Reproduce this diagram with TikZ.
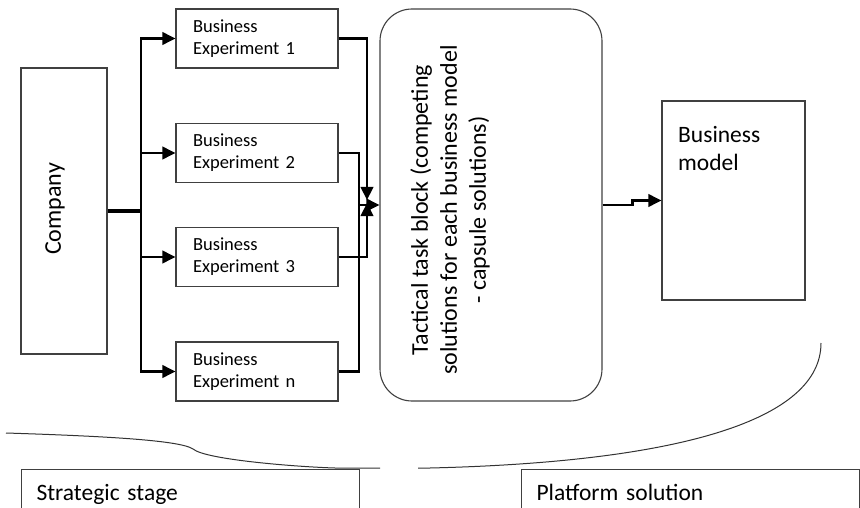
\documentclass[tikz,border=0pt]{standalone}
\usepackage{fontspec}
\setmainfont{Carlito}
\usetikzlibrary{arrows.meta}

\begin{document}
\begin{tikzpicture}[x=1pt, y=-1pt,
        box/.style={draw=black!75, line width=1.1pt},
        expBox/.style={box, minimum width=162pt, minimum height=59pt, text width=128pt, inner xsep=17pt, align=left, font=\fontsize{18.5pt}{22pt}\selectfont},
        bigText/.style={font=\fontsize{24pt}{29pt}\selectfont, inner sep=0pt},
        stageBox/.style={box, anchor=north west, text width=308pt, inner xsep=15pt, inner ysep=15pt, align=left, font=\fontsize{23.5pt}{28pt}\selectfont},
        conn/.style={line width=2.2pt, black},
        arr/.style={conn, -{Triangle[length=13pt, width=12.5pt]}}]

        \useasboundingbox (0,0) rectangle (860,508);
        \clip (0,0) rectangle (860,508);

        \node[box, minimum width=86pt, minimum height=286pt] (C) at (64,211) {};
        \node[bigText, rotate=90] (Ctext) at (55,209) {Company};

        \node[expBox] (E1) at (257,38.5) {Business\\Experiment 1};
        \node[expBox] (E2) at (257,153) {Business\\Experiment 2};
        \node[expBox] (E3) at (257,257) {Business\\Experiment 3};
        \node[expBox] (En) at (257,371.5) {Business\\Experiment n};

        \node[box, rounded corners=32pt, minimum width=222pt, minimum height=392pt] (TB) at (491,205) {};
        \node[bigText, rotate=90, align=center] (TBtext) at (450,210) {Tactical task block (competing\\solutions for each business model\\- capsule solutions)};

        \node[box, minimum width=143pt, minimum height=199pt] (BM) at (733.5,200.5) {};
        \node[bigText, anchor=north west, align=left, font=\fontsize{23.5pt}{28pt}\selectfont] (BMtext) at (678,126) {Business\\model};

        \node[stageBox] (S) at (21,469) {Strategic stage};
        \node[stageBox] (P) at (521,469) {Platform solution};

        \coordinate (T) at (141,211);
        \coordinate (J1a) at (367,200);
        \coordinate (J1b) at (367,203);
        \coordinate (J2) at (359,205);

        % company to the experiments
        \draw[conn, line width=3pt] (C) -- (T);
        \draw[arr] (T) |- (E1);
        \draw[arr] (T) |- (E2);
        \draw[arr] (T) |- (E3);
        \draw[arr] (T) |- (En);

        % experiments to the task block
        \draw[arr] (E1) -| (J1a);
        \draw[arr] (E3) -| (J1b);
        \draw[conn] (E2) -| (J2);
        \draw[conn] (En) -| (J2);
        \draw[arr] (J2) -- (TB);

        \draw[arr] (TB.east) -- ++(30,0) |- (BM);

        % braces
        \draw[black!80, line width=1pt] (6,433) .. controls (100,436) and (180,440) .. (193,449)
            .. controls (206,460) and (300,467) .. (335,468) -- (380,468);
        \draw[black!80, line width=1pt] (821,343) .. controls (821,420) and (680,462) .. (430,468) -- (418,468);
    \end{tikzpicture}
\end{document}
